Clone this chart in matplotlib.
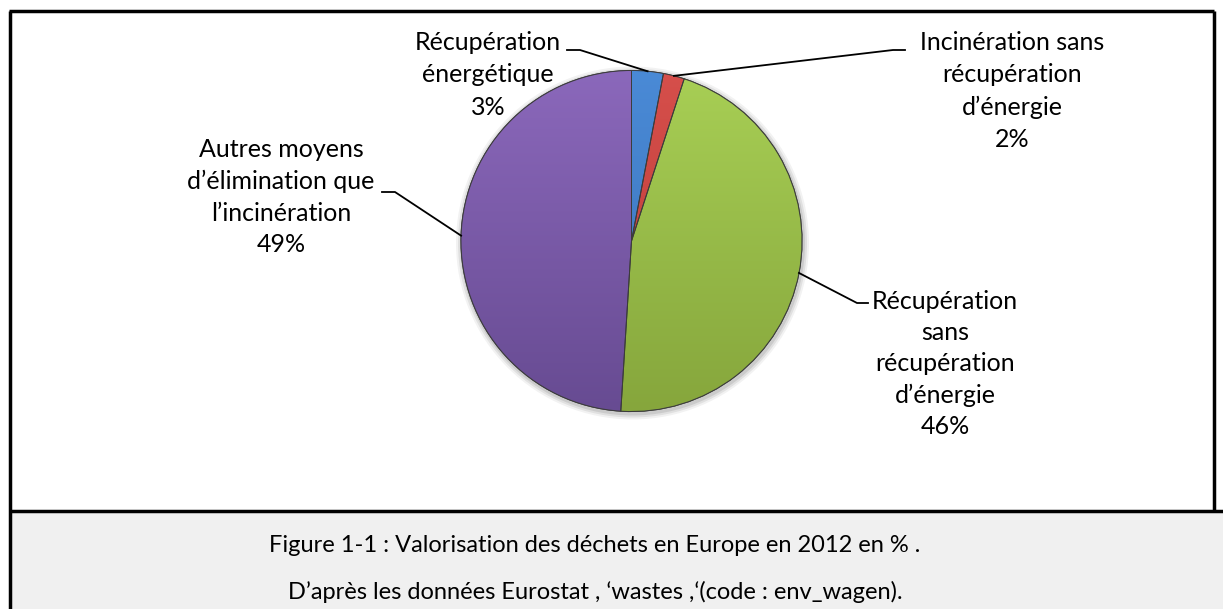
import numpy as np
import matplotlib
matplotlib.use("Agg")
import matplotlib.pyplot as plt
from matplotlib.colors import LinearSegmentedColormap
from matplotlib.patches import Rectangle, Circle, Wedge

# ---- data ----
labels = ["Récupération\nénergétique", "Incinération sans\nrécupération\nd’énergie",
          "Récupération\nsans\nrécupération\nd’énergie", "Autres moyens\nd’élimination que\nl’incinération"]
values = [3, 2, 46, 49]
top_colors = ["#4a8ad6", "#d64f4b", "#a8cf55", "#8b68bb"]
bot_colors = ["#3a72b8", "#b83a36", "#86a63c", "#674b92"]
caption1 = "Figure 1-1 : Valorisation des déchets en Europe en 2012 en % ."
caption2 = "D’après les données Eurostat , ‘wastes ,‘(code : env_wagen)."

W, H = 1223, 609
FONT = ["Lato", "DejaVu Sans"]
FS = 18

fig = plt.figure(figsize=(W / 100, H / 100), dpi=100)
ax = fig.add_axes([0, 0, 1, 1])
ax.set_xlim(0, W)
ax.set_ylim(0, H)
ax.axis("off")

def Y(y):
    return H - y

# frame and caption box
ax.add_patch(Rectangle((10, Y(609) - 5), W, Y(511) - Y(609) + 5, facecolor="#f0f0f0",
                       edgecolor="none", zorder=0))
ax.plot([10, 10], [Y(11), Y(612)], color="black", lw=2.5, zorder=5, solid_capstyle="butt")
ax.plot([9, 1214], [Y(11), Y(11)], color="black", lw=2.5, zorder=5, solid_capstyle="butt")
ax.plot([1214, 1214], [Y(11), Y(511)], color="black", lw=2.5, zorder=5, solid_capstyle="butt")
ax.plot([9, W], [Y(511), Y(511)], color="black", lw=2.5, zorder=5, solid_capstyle="butt")

# pie
cx, cy, r = 631.5, Y(241), 170.5
for k, a in zip([6, 4, 2], [0.05, 0.07, 0.09]):
    ax.add_patch(Circle((cx + 1, cy - 2), r + k, facecolor="black", edgecolor="none",
                        alpha=a, zorder=1))
wedges, _ = ax.pie(values, startangle=90, counterclock=False, center=(cx, cy), radius=r,
                   wedgeprops=dict(edgecolor="#3a3a3a", linewidth=0.8),
                   frame=True)
grad = np.linspace(1, 0, 256).reshape(-1, 1)
for w, c1, c2 in zip(wedges, top_colors, bot_colors):
    w.set_facecolor(c1)
    w.set_zorder(2)
    cmap = LinearSegmentedColormap.from_list("g", [c2, c1])
    im = ax.imshow(grad, extent=[cx - r, cx + r, cy - r, cy + r], cmap=cmap,
                   origin="upper", aspect="auto", zorder=2.5, interpolation="bilinear")
    im.set_clip_path(w)
    ax.add_patch(Wedge((cx, cy), r, w.theta1, w.theta2, facecolor="none",
                       edgecolor="#3c3c3c", linewidth=0.7, zorder=3))
ax.set_xlim(0, W)
ax.set_ylim(0, H)
ax.axis("off")

# labels with leader lines
pct = [f"{v}%" for v in values]
label_pos = [(488, 75), (1012, 91), (945, 364), (281, 197)]
spacing = [1.5, 1.5, 1.42, 1.45]
tick = [((580, 50), (567, 50)), ((893, 50), (905, 50)), ((857, 303), (868, 303)),
        ((395, 192), (382, 192))]
for w, lab, p, (tx, ty), (t0, t1), ls in zip(wedges, labels, pct, label_pos, tick, spacing):
    ang = np.deg2rad((w.theta1 + w.theta2) / 2)
    ex, ey = cx + r * np.cos(ang), cy + r * np.sin(ang)
    ax.plot([ex, t0[0], t1[0]], [ey, Y(t0[1]), Y(t1[1])], color="black", lw=1.3, zorder=4)
    ax.text(tx, Y(ty), lab + "\n" + p, ha="center", va="center", fontsize=FS,
            family=FONT, linespacing=ls, zorder=4)

ax.text(595, Y(545), caption1, ha="center", va="center", fontsize=17, family=FONT, zorder=6)
ax.text(595, Y(592), caption2, ha="center", va="center", fontsize=17, family=FONT, zorder=6)

fig.savefig("out.png", dpi=100)
